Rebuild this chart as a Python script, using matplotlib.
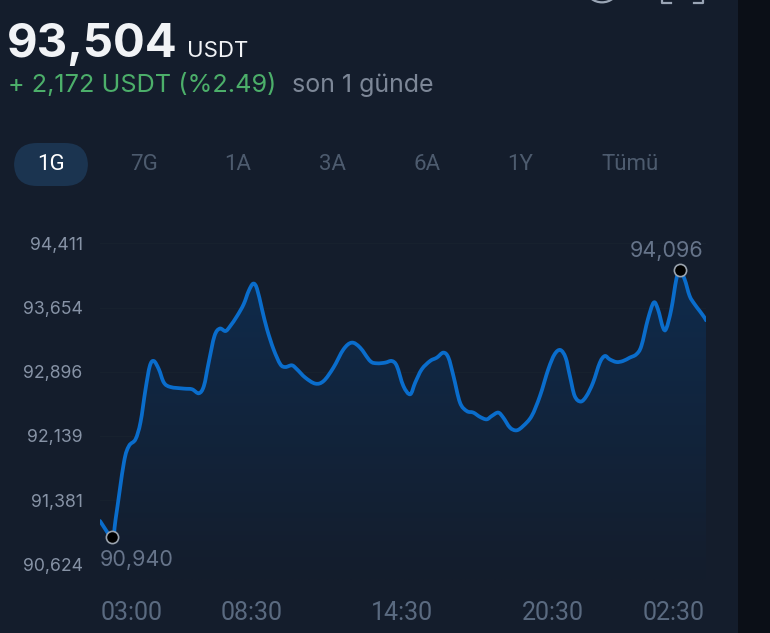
import numpy as np
import matplotlib
matplotlib.use("Agg")
import matplotlib.pyplot as plt
from matplotlib.patches import Polygon, FancyBboxPatch, Rectangle, Circle, PathPatch
from matplotlib.path import Path
from matplotlib.transforms import ScaledTranslation
from matplotlib.lines import Line2D

# ---------------- data ----------------
hours = [2.49, 2.98, 3.11, 3.44, 3.64, 3.90, 4.10, 4.30, 4.47, 4.63, 4.83, 5.03, 5.29, 5.82,
         6.15, 6.42, 6.62, 6.81, 7.04, 7.25, 7.48, 7.67, 7.94, 8.20, 8.40, 8.58, 8.73, 8.93,
         9.13, 9.39, 9.66, 9.86, 10.12, 10.32, 10.65, 11.05, 11.38, 11.77, 12.17, 12.50, 12.83,
         13.23, 13.50, 13.83, 14.09, 14.29, 14.55, 14.82, 15.02, 15.28, 15.61, 15.88, 16.14,
         16.34, 16.54, 16.80, 17.07, 17.33, 17.60, 17.86, 18.06, 18.32, 18.52, 18.79, 19.05,
         19.31, 19.65, 19.98, 20.31, 20.56, 20.79, 21.00, 21.17, 21.36, 21.60, 21.83, 22.09,
         22.36, 22.56, 22.75, 23.02, 23.28, 23.55, 23.81, 24.01, 24.27, 24.50, 24.67, 24.87,
         25.00, 25.20, 25.40, 25.53, 25.73, 25.93, 26.13, 26.33, 26.52, 26.58]
prices = [91133, 90940, 91153, 91823, 92019, 92098, 92299, 92689, 92964, 93023, 92925, 92768,
          92716, 92697, 92689, 92642, 92728, 93004, 93318, 93406, 93377, 93437, 93555, 93693,
          93850, 93937, 93878, 93634, 93398, 93161, 92984, 92952, 92972, 92925, 92827, 92756,
          92787, 92945, 93161, 93240, 93181, 93023, 92996, 93004, 93023, 92964, 92728, 92630,
          92768, 92925, 93023, 93063, 93122, 93063, 92846, 92532, 92432, 92414, 92362, 92334,
          92373, 92414, 92355, 92236, 92204, 92255, 92373, 92610, 92925, 93102, 93153, 93063,
          92846, 92610, 92544, 92610, 92768, 93004, 93082, 93043, 93011, 93023, 93063, 93102,
          93200, 93516, 93713, 93634, 93418, 93406, 93634, 93988, 94096, 93988, 93791, 93693,
          93614, 93536, 93504]

y_ticks = [90624, 91381, 92139, 92896, 93654, 94411]
y_tick_labels = ["90,624", "91,381", "92,139", "92,896", "93,654", "94,411"]
x_ticks = [3.0, 8.5, 14.5, 20.5, 26.5]
x_tick_labels = ["03:00", "08:30", "14:30", "20:30", "02:30"]
tabs = ["1G", "7G", "1A", "3A", "6A", "1Y", "Tümü"]

price_now = "93,504"
change_text = "+ 2,172 USDT (%2.49)"
period_text = "son 1 günde"
unit = "USDT"

# ---------------- style ----------------
W, H = 770, 633
BG = "#141d2c"
LINE = "#0a6dcc"
fig = plt.figure(figsize=(W / 100, H / 100), dpi=100, facecolor=BG)


def fx(v):
    return v / W


def fy(v):
    return 1 - v / H


# dark strip on the right
fig.patches.append(Rectangle((fx(738), 0), 1 - fx(738), 1, transform=fig.transFigure,
                             facecolor="#0b0f17", edgecolor="none", zorder=0))

# axes placement (pixels)
L, R, T, B = 100, 706, 230, 580
ax = fig.add_axes([fx(L), fy(B), fx(R) - fx(L), (B - T) / H])
ax.set_facecolor("none")
for s in ax.spines.values():
    s.set_visible(False)

x = np.array(hours)
y = np.array(prices)
ypx0 = 243.5
scale = 11.812
ytop = 94411 + (ypx0 - T) * scale
ybot = 94411 - (B - ypx0) * scale
ax.set_ylim(ybot, ytop)
ax.set_xlim(x.min(), x.max())

# grid (very faint)
for t in y_ticks:
    ax.axhline(t, color="#18222f", lw=0.7, zorder=0)

# smooth path through the points (Catmull-Rom drawn as cubic Bezier segments)
pts = np.column_stack([x, y])
verts = [tuple(pts[0])]
codes = [Path.MOVETO]
tension = 1 / 6
for i in range(len(pts) - 1):
    p0 = pts[i - 1] if i > 0 else pts[i]
    p1 = pts[i]
    p2 = pts[i + 1]
    p3 = pts[i + 2] if i + 2 < len(pts) else pts[i + 1]
    c1 = p1 + (p2 - p0) * tension
    c2 = p2 - (p3 - p1) * tension
    verts += [tuple(c1), tuple(c2), tuple(p2)]
    codes += [Path.CURVE4] * 3
line_path = Path(verts, codes)

fill_verts = verts + [(x[-1], ybot), (x[0], ybot), verts[0]]
fill_codes = codes + [Path.LINETO, Path.LINETO, Path.CLOSEPOLY]
clip = PathPatch(Path(fill_verts, fill_codes), facecolor="none", edgecolor="none")
ax.add_patch(clip)

top_c = np.array([15, 43, 76]) / 255
bot_c = np.array([20, 29, 44]) / 255
n = 256
t = np.linspace(0, 1, n)[:, None]
grad = (top_c[None, :] * (1 - t) + bot_c[None, :] * t)
img = np.repeat(grad[:, None, :], 2, axis=1)
im = ax.imshow(img, extent=[x.min(), x.max(), ybot, y.max()], aspect="auto",
               origin="upper", zorder=1, interpolation="bilinear")
im.set_clip_path(clip)

ax.add_patch(PathPatch(line_path, facecolor="none", edgecolor=LINE, lw=2.7,
                       joinstyle="round", capstyle="round", zorder=3))

imin = int(np.argmin(y))
imax = int(np.argmax(y))
ax.plot([x[imin], x[imax]], [y[imin], y[imax]], "o", ms=8.8, mfc="black", mec="#9aa3ae",
        mew=1.2, zorder=4)
ann_col = "#66748a"
ax.annotate(f"{y[imin]:,.0f}", (x.min(), y[imin]), xytext=(0, -16), textcoords="offset points",
            ha="left", va="center", color=ann_col, fontsize=15.5, family="Inter")
ax.annotate(f"{y[imax]:,.0f}", (x.max(), y[imax]), xytext=(-2, 14), textcoords="offset points",
            ha="right", va="center", color=ann_col, fontsize=15.5, family="Inter")

# ticks
ax.set_yticks(y_ticks)
ax.set_yticklabels(y_tick_labels)
ax.tick_params(axis="y", length=0, pad=12.5, labelcolor="#8793a6", labelsize=12.7)
for lab in ax.get_yticklabels():
    lab.set_family("Inter")
ax.set_xticks(x_ticks)
ax.set_xticklabels(x_tick_labels)
ax.tick_params(axis="x", length=0, pad=15, labelcolor="#5a6a80", labelsize=18)
xl = ax.get_xticklabels()
for lab in xl:
    lab.set_family("Roboto")
xl[0].set_transform(xl[0].get_transform() + ScaledTranslation(0.19, 0, fig.dpi_scale_trans))
xl[-1].set_transform(xl[-1].get_transform() + ScaledTranslation(-0.30, 0, fig.dpi_scale_trans))

# header
fig.text(fx(7), fy(57), price_now, color="#f1f3f6", fontsize=34, fontweight="bold",
         family="Inter", va="baseline", ha="left")
fig.text(fx(187), fy(57), unit, color="#f1f3f6", fontsize=16, family="Inter",
         va="baseline", ha="left")
fig.text(fx(8), fy(92), change_text, color="#4caf6a", fontsize=18.2, family="Inter",
         va="baseline", ha="left")
fig.text(fx(292), fy(92), period_text, color="#7d8797", fontsize=18, family="Inter",
         va="baseline", ha="left")

# tabs
pill = FancyBboxPatch((fx(14), fy(186)), fx(88) - fx(14), (186 - 143) / H,
                      boxstyle="round,pad=0,rounding_size=0.03", transform=fig.transFigure,
                      facecolor="#1b3450", edgecolor="none", mutation_aspect=W / H)
fig.patches.append(pill)
tab_x = [51, 144, 238, 332, 427, 520, 630]
for i, (lbl, tx) in enumerate(zip(tabs, tab_x)):
    fig.text(fx(tx), fy(165), lbl, color="#ffffff" if i == 0 else "#4d5b6e", fontsize=16,
             family="Roboto", ha="center", va="center")

# partial icons at the top
fig.patches.append(Circle((fx(602), fy(-10)), 15 / W, transform=fig.transFigure,
                          facecolor="none", edgecolor="#9aa5b5", lw=1.6))
for xs, ys in [([662, 662, 671], [-2, 3, 3]), ([703, 703, 694], [-2, 3, 3])]:
    fig.lines.append(Line2D([fx(v) for v in xs], [fy(v) for v in ys], transform=fig.transFigure,
                            color="#9aa5b5", lw=1.6))

fig.savefig("out.png", dpi=100, facecolor=BG)
